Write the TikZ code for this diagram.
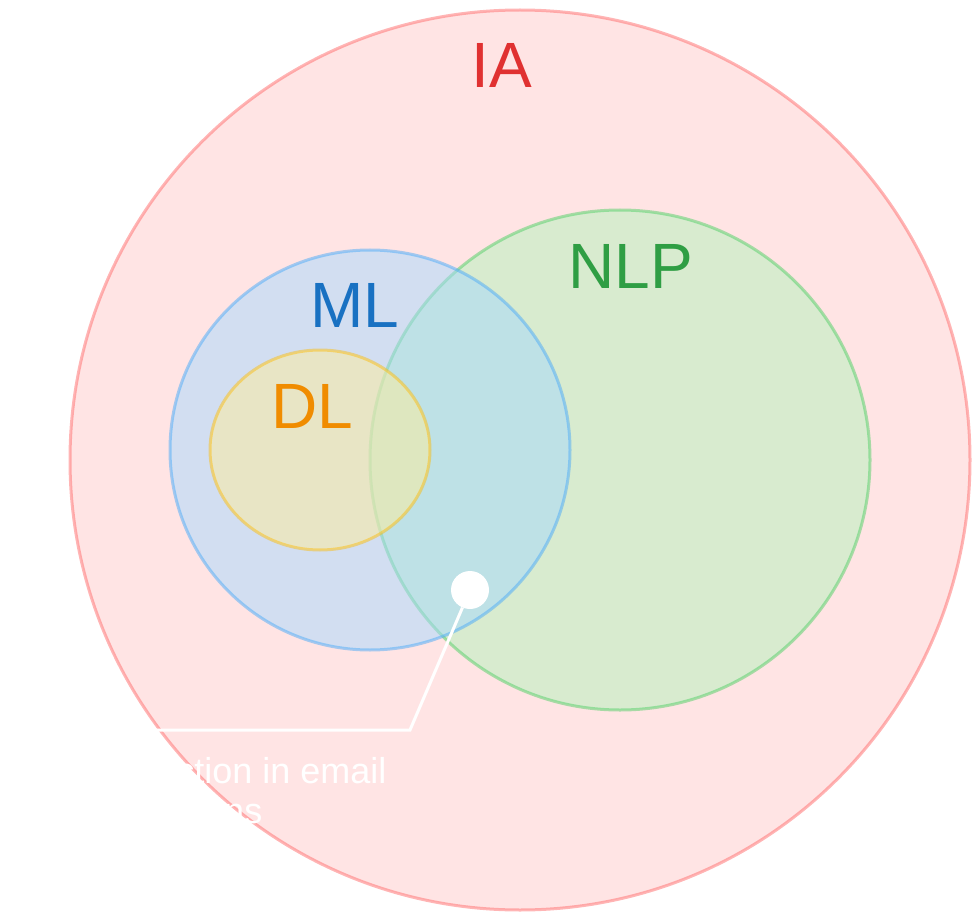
\documentclass[tikz,border=0pt]{standalone}
\usepackage{fontspec}
\setmainfont{Liberation Sans}

\definecolor{iafill}{RGB}{255,201,201}
\definecolor{iadraw}{RGB}{255,107,107}
\definecolor{iatext}{RGB}{224,49,49}
\definecolor{mlfill}{RGB}{165,216,255}
\definecolor{mldraw}{RGB}{77,171,247}
\definecolor{mltext}{RGB}{25,113,194}
\definecolor{nlpfill}{RGB}{178,242,187}
\definecolor{nlpdraw}{RGB}{81,207,102}
\definecolor{nlptext}{RGB}{47,158,68}
\definecolor{dlfill}{RGB}{255,236,153}
\definecolor{dldraw}{RGB}{250,190,20}
\definecolor{dltext}{RGB}{240,140,0}

\tikzset{
  setarea/.style={line width=3pt, opacity=0.5},
  setname/.style={font=\fontsize{64}{64}\selectfont, inner sep=0pt},
}

\begin{document}
\begin{tikzpicture}[x=1pt, y=-1pt]
\useasboundingbox (0,0) rectangle (980,920);

% the sets
\draw[setarea, draw=iadraw, fill=iafill] (520,460) circle (450);
\draw[setarea, draw=nlpdraw, fill=nlpfill] (620,460) circle (250);
\draw[setarea, draw=mldraw, fill=mlfill] (370,450) circle (200);
\draw[setarea, draw=dldraw, fill=dlfill] (320,450) ellipse (110 and 100);

% names of the sets
\node[setname, text=iatext] (ia) at (502,65) {IA};
\node[setname, text=mltext] (ml) at (355,305) {ML};
\node[setname, text=nlptext] (nlp) at (631,266) {NLP};
\node[setname, text=dltext] (dl) at (312,406) {DL};

% the example
\node[circle, fill=white, minimum size=38pt, inner sep=0pt] (dot) at (470,590) {};
\coordinate (bend) at (410,730);
\coordinate (tail) at (5,730);
\node[anchor=north west, inner sep=0pt, text=white, align=left,
  font=\fontsize{36}{40}\selectfont] (usecase) at (2,757)
  {Spam detection in email\\communications};
\draw[white, line width=3pt] (dot) -- (bend) -- (tail);
\end{tikzpicture}
\end{document}
